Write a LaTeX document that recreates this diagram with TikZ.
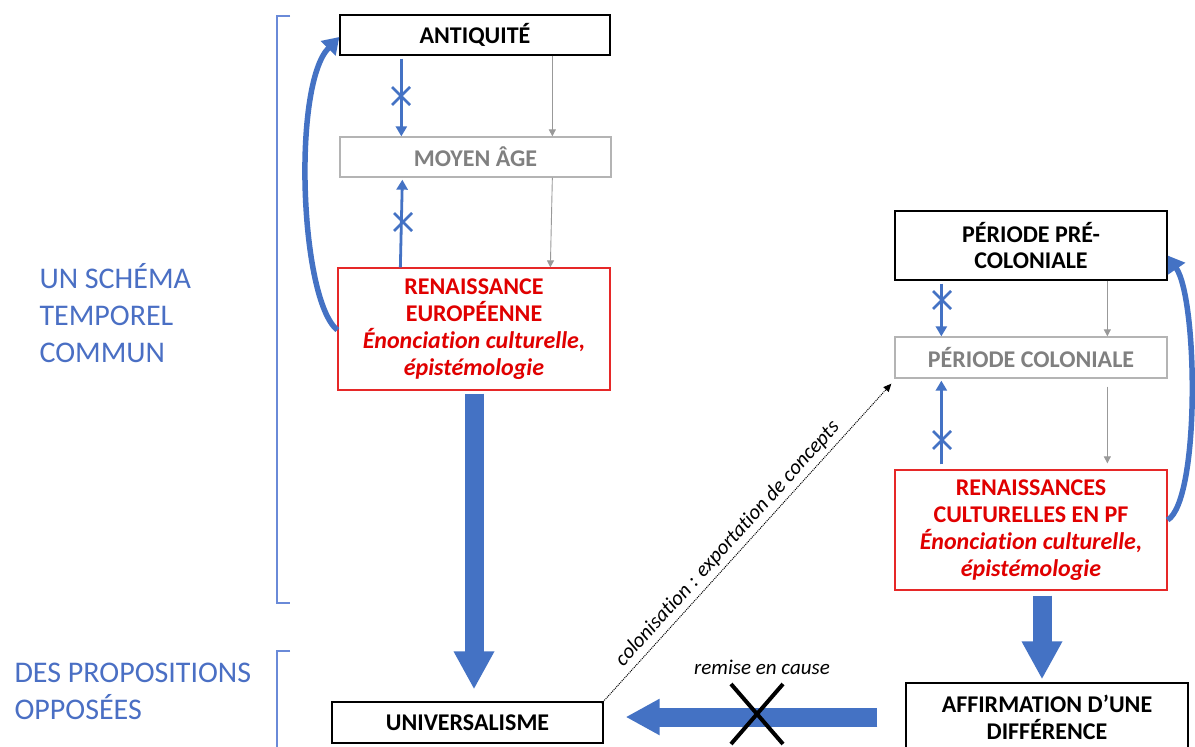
\documentclass[tikz,border=0pt]{standalone}
\usepackage{fontspec}
\setmainfont{Carlito}[Ligatures=NoCommon]
\usetikzlibrary{arrows.meta,calc}
\definecolor{myblue}{HTML}{4472C4}
\definecolor{lblblue}{HTML}{4A6FC4}
\definecolor{brblue}{HTML}{6A8AD8}
\definecolor{myred}{RGB}{224,0,0}
\definecolor{redborder}{RGB}{230,40,40}
\definecolor{mygray}{HTML}{808080}
\definecolor{grayborder}{HTML}{B4B4B4}
\newcommand\bxfont{\fontsize{24}{27}\selectfont\bfseries}
\newcommand\sidefont{\fontsize{30}{37}\selectfont}
\newcommand\lblfont{\fontsize{21}{24}\selectfont\itshape}
\begin{document}
\begin{tikzpicture}[x=1pt,y=-1pt,
  box/.style={draw=black, line width=1.3pt, inner sep=2pt, align=center, font=\bxfont, text=black},
  graybox/.style={box, draw=grayborder, text=mygray},
  redbox/.style={box, draw=redborder, text=myred},
  bluearr/.style={draw=myblue, line width=2.8pt, -{Triangle[width=11pt,length=10pt]}},
  grayarr/.style={draw=mygray!80, line width=0.9pt, -{Triangle[width=7pt,length=7pt]}},
  curvearr/.style={draw=myblue, line width=5.5pt, -{Triangle[width=20pt,length=16pt]}},
  fatarr/.style={draw=myblue, line width=19pt, -{Triangle[width=38pt,length=38pt]}},
  crossmark/.style={draw=myblue, line width=2.8pt},
  bracket/.style={draw=brblue, line width=1.2pt},
  sidelbl/.style={anchor=west, align=left, font=\sidefont, text=lblblue},
  lbl/.style={font=\lblfont, text=black}
]
\fill[white] (0,0) rectangle (1195,747);
\useasboundingbox (0,0) rectangle (1195,747);

% left column
\node[box, minimum width=270pt, minimum height=40pt] (ant) at (475,35) {ANTIQUITÉ};
\node[graybox, minimum width=271pt, minimum height=40pt] (moy) at (475.5,157) {MOYEN ÂGE};
\node[redbox, minimum width=272pt, minimum height=122pt] (ren) at (474,329)
  {RENAISSANCE\\EUROPÉENNE\\{\itshape Énonciation culturelle,}\\{\itshape épistémologie}};
\node[box, minimum width=271pt, minimum height=41pt] (univ) at (467.5,722.5) {UNIVERSALISME};

% right column
\node[box, minimum width=272pt, minimum height=69pt] (pre) at (1031,245.5) {PÉRIODE PRÉ-\\COLONIALE};
\node[graybox, minimum width=272pt, minimum height=41pt] (col) at (1031,357.5) {PÉRIODE COLONIALE};
\node[redbox, minimum width=272pt, minimum height=120pt] (ren2) at (1031,530)
  {RENAISSANCES\\CULTURELLES EN PF\\{\itshape Énonciation culturelle,}\\{\itshape épistémologie}};
\node[box, minimum width=282pt, minimum height=68pt] (aff) at (1047,717) {AFFIRMATION D’UNE\\DIFFÉRENCE};

% side labels
\node[sidelbl] (lab1) at (36,313) {UN SCHÉMA\\TEMPOREL\\COMMUN};
\node[sidelbl] (lab2) at (11,691) {DES PROPOSITIONS\\OPPOSÉES};

% brackets
\draw[bracket] (290,16) -- (277,16) -- (277,603) -- (290,603);
\draw[bracket] (290,651) -- (277,651) -- (277,760);

% left blue arrows with crosses
\coordinate (a1) at ([xshift=62pt,yshift=-3pt]ant.south west);
\coordinate (a2) at ([xshift=62pt]moy.north west);
\draw[bluearr] (a1) -- (a2);
\coordinate (a3) at ([xshift=63pt]ren.north west);
\coordinate (a4) at ([xshift=63pt,yshift=-2pt]moy.south west);
\draw[bluearr] (a3) -- (a4);
\coordinate (x1) at (401,96);
\coordinate (x2) at (403,222);
\foreach \c in {x1,x2}{
  \draw[crossmark] ($(\c)+(-9,-9)$) -- ($(\c)+(9,9)$);
  \draw[crossmark] ($(\c)+(-9,9)$) -- ($(\c)+(9,-9)$);
}

% left gray arrows
\draw[grayarr] ([xshift=213pt]ant.south west) -- ([xshift=213pt]moy.north west);
\draw[grayarr] ([xshift=213pt]moy.south west) -- ([xshift=213pt]ren.north west);

% right blue arrows with crosses
\coordinate (b1) at ([xshift=47pt,yshift=-3pt]pre.south west);
\coordinate (b2) at ([xshift=47pt]col.north west);
\draw[bluearr] (b1) -- (b2);
\coordinate (b3) at ([xshift=47pt,yshift=5pt]ren2.north west);
\coordinate (b4) at ([xshift=47pt,yshift=-2pt]col.south west);
\draw[bluearr] (b3) -- (b4);
\coordinate (x3) at (942,300);
\coordinate (x4) at (942,440);
\foreach \c in {x3,x4}{
  \draw[crossmark] ($(\c)+(-9,-9)$) -- ($(\c)+(9,9)$);
  \draw[crossmark] ($(\c)+(-9,9)$) -- ($(\c)+(9,-9)$);
}

% right gray arrows
\draw[grayarr] ([xshift=213pt]pre.south west) -- ([xshift=213pt]col.north west);
\draw[grayarr] ([xshift=213pt,yshift=-8pt]col.south west) -- ([xshift=213pt,yshift=6pt]ren2.north west);

% curved arrows
\draw[curvearr] ([yshift=-1pt]ren.west) .. controls (300,300) and (292,85) .. ([yshift=-2pt]ant.west);
\draw[curvearr] ([yshift=10pt]ren2.east) .. controls (1200,500) and (1198,300) .. ([yshift=-10pt]pre.east);

% fat arrows
\draw[fatarr] ([yshift=-3pt]ren.south) -- ([yshift=12pt]ren.south |- univ.north);
\coordinate (r2s) at ([xshift=11pt,yshift=-5pt]ren2.south);
\draw[fatarr] (r2s) -- ([yshift=3pt]r2s |- aff.north);
\coordinate (hs) at ([xshift=-28pt]aff.west);
\coordinate (he) at ([xshift=22pt]univ.east |- hs);
\draw[fatarr, -{Triangle[width=34pt,length=34pt]}] (hs) -- (he);

% remise en cause
\coordinate (xm) at (757,714);
\draw[line width=4pt] ($(xm)+(-26,-30)$) -- ($(xm)+(26,30)$);
\draw[line width=4pt] ($(xm)+(-26,30)$) -- ($(xm)+(26,-30)$);
\node[lbl] (rec) at (762,667) {remise en cause};

% colonisation dotted arrow
\draw[densely dotted, line width=1pt, -{Triangle[width=7pt,length=8pt]}]
  ([xshift=-2pt,yshift=-2pt]univ.north east) -- ([xshift=-3pt,yshift=-5pt]col.south west)
  node[lbl, pos=0.47, sloped, above=1pt] {colonisation : exportation de concepts};
\end{tikzpicture}
\end{document}
